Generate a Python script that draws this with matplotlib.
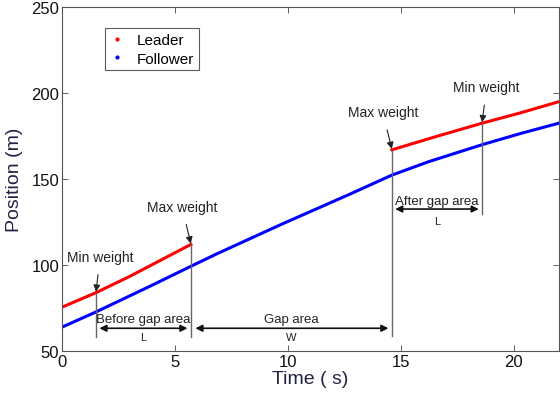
import numpy as np
import matplotlib.pyplot as plt

plt.rcParams['font.family'] = ['Liberation Sans', 'DejaVu Sans']

# --- datos ---
t_lider_a = [0.0, 1.5, 3.0, 4.5, 5.7]
y_lider_a = [75.6, 84.0, 93.5, 103.8, 112.0]
t_lider_b = [14.6, 16.5, 18.6, 20.3, 22.0]
y_lider_b = [167.0, 174.5, 182.5, 188.5, 195.0]

t_seguidor = [0.0, 1.5, 3.9, 5.65, 6.84, 9.76, 12.7, 14.6, 16.25, 18.6, 20.3, 22.0]
y_seguidor = [64.0, 72.8, 87.8, 99.0, 106.5, 124.0, 141.0, 152.3, 160.2, 170.0, 176.5, 182.5]

t_marcas = [1.5, 5.7, 14.6, 18.6]
y_marcas_sup = [84.0, 112.0, 167.0, 182.5]
y_marcas_inf = [58.0, 58.0, 59.0, 130.0]

fig = plt.figure(figsize=(5.6, 4.02), dpi=100)
ax = fig.add_axes([0.111, 0.124, 0.887, 0.856])

ax.plot(t_lider_a, y_lider_a, color='red', lw=2.2, label='Leader')
ax.plot(t_lider_b, y_lider_b, color='red', lw=2.2)
ax.plot(t_seguidor, y_seguidor, color='blue', lw=2.2, label='Follower')

# lineas verticales
for x, y0, y1 in zip(t_marcas, y_marcas_inf, y_marcas_sup):
    ax.plot([x, x], [y0, y1], color='#666666', lw=1)

# anotaciones de peso
fs = 10
ax.annotate('Min weight', xy=(1.5, 84.5), xytext=(1.68, 105), ha='center', va='center', fontsize=fs,
            color='#222222', arrowprops=dict(arrowstyle='-|>', color='#222222', lw=0.8, shrinkA=6, shrinkB=0))
ax.annotate('Max weight', xy=(5.7, 112.5), xytext=(5.3, 134), ha='center', va='center', fontsize=fs,
            color='#222222', arrowprops=dict(arrowstyle='-|>', color='#222222', lw=0.8, shrinkA=6, shrinkB=0))
ax.annotate('Max weight', xy=(14.6, 167.5), xytext=(14.2, 189), ha='center', va='center', fontsize=fs,
            color='#222222', arrowprops=dict(arrowstyle='-|>', color='#222222', lw=0.8, shrinkA=6, shrinkB=0))
ax.annotate('Min weight', xy=(18.6, 183), xytext=(18.8, 203.5), ha='center', va='center', fontsize=fs,
            color='#222222', arrowprops=dict(arrowstyle='-|>', color='#222222', lw=0.8, shrinkA=6, shrinkB=0))

# flechas de areas
flecha = dict(arrowstyle='<|-|>', color='#111111', lw=1.2, shrinkA=0, shrinkB=0, mutation_scale=10)
ax.annotate('', xy=(1.65, 63.3), xytext=(5.55, 63.3), arrowprops=flecha)
ax.annotate('', xy=(5.9, 63.3), xytext=(14.45, 63.3), arrowprops=flecha)
ax.annotate('', xy=(14.75, 132.6), xytext=(18.45, 132.6), arrowprops=flecha)

ax.text(3.6, 68.5, 'Before gap area', ha='center', va='center', fontsize=9.5, color='#222222')
ax.text(3.6, 58.3, 'L', ha='center', va='center', fontsize=8, color='#222222')
ax.text(10.15, 68.5, 'Gap area', ha='center', va='center', fontsize=9.5, color='#222222')
ax.text(10.15, 58.3, 'W', ha='center', va='center', fontsize=8, color='#222222')
ax.text(16.6, 137.5, 'After gap area', ha='center', va='center', fontsize=9.5, color='#222222')
ax.text(16.6, 125.8, 'L', ha='center', va='center', fontsize=8, color='#222222')

ax.set_xlim(0, 22)
ax.set_ylim(50, 250)
ax.set_xticks([0, 5, 10, 15, 20])
ax.set_yticks([50, 100, 150, 200, 250])
ax.tick_params(direction='in', top=True, right=True, length=4, width=0.6, color='#444444',
               labelsize=12, labelcolor='#111111', pad=2)
for s in ax.spines.values():
    s.set_color('#555555')
    s.set_linewidth(0.8)

ax.set_xlabel('Time ( s)', fontsize=14, color='#222244', labelpad=1)
ax.set_ylabel('Position (m)', fontsize=14, color='#222244', labelpad=6)

leg = ax.legend(loc='upper left', bbox_to_anchor=(0.07, 0.96), fontsize=11, frameon=True,
                fancybox=False, edgecolor='#333333', handlelength=1.0, handletextpad=0.8,
                borderpad=0.3, labelspacing=0.3)
leg.get_frame().set_linewidth(0.8)
for h in leg.get_lines():
    h.set_linestyle('none')
    h.set_marker('.')
    h.set_markersize(4)

fig.savefig('out.png', dpi=100)
